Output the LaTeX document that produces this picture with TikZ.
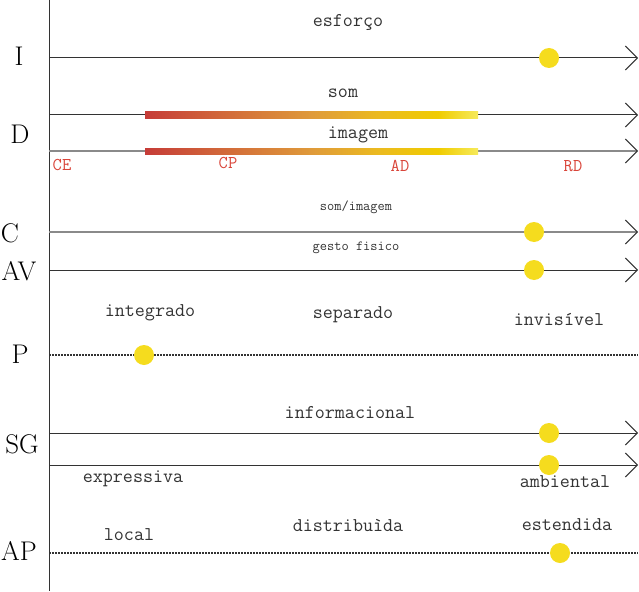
\documentclass[tikz,border=0pt]{standalone}
\usepackage{fontspec}
\usetikzlibrary{arrows.meta}
\definecolor{dotyel}{HTML}{F5DC1E}
\definecolor{ln}{HTML}{333333}
\definecolor{lngray}{HTML}{8A8A8A}
\definecolor{lbred}{HTML}{D9453A}
\definecolor{gA}{HTML}{C63C38}
\definecolor{gB}{HTML}{D26A3A}
\definecolor{gC}{HTML}{DF9A3A}
\definecolor{gD}{HTML}{EBBA20}
\definecolor{gE}{HTML}{F0CC00}
\definecolor{gF}{HTML}{F6EA5A}
\pgfdeclarehorizontalshading{grad}{100bp}{color(0bp)=(gA); color(25bp)=(gA); color(37bp)=(gB); color(50bp)=(gC); color(60bp)=(gD); color(69bp)=(gE); color(75bp)=(gF); color(100bp)=(gF)}
\tikzset{
  axisline/.style={draw=ln, line width=1pt},
  arrline/.style={draw=ln, line width=1pt, -{Straight Barb[length=12pt,width=24pt,line width=1pt,color=ln]}},
  grayarr/.style={arrline, draw=lngray, line width=1.4pt},
  dotline/.style={draw=ln, line width=1.3pt, dash pattern=on 1.6pt off 1.4pt},
  bigl/.style={inner sep=0pt, font=\fontsize{27}{27}\selectfont},
  lab/.style={inner sep=0pt, font=\ttfamily\fontsize{19.5}{19.5}\selectfont, text=ln},
  smlab/.style={inner sep=0pt, font=\ttfamily\fontsize{14}{14}\selectfont, text=ln},
  redlab/.style={inner sep=0pt, font=\ttfamily\fontsize{18}{18}\selectfont, text=lbred},
  ydot/.style={circle, fill=dotyel, inner sep=0pt, minimum size=20pt},
  gbar/.style={shading=grad}
}
\begin{document}
\begin{tikzpicture}[x=1pt,y=-1pt]
\useasboundingbox (0,0) rectangle (639,591);
% axis
\coordinate (axT) at (49,0);
\coordinate (axB) at (49,591);
\draw[axisline] (axT) -- (axB);
% line coordinates
\foreach \n/\y in {I/58,som/115,img/151,C/232,AV/270,P/355,SGa/433,SGb/465,AP/553}{
  \coordinate (s\n) at (49,\y);
  \coordinate (e\n) at (638,\y);
}
\draw[arrline] (sI) -- (eI);
\draw[arrline] (ssom) -- (esom);
\draw[grayarr] (simg) -- (eimg);
\draw[grayarr] (sC) -- (eC);
\draw[arrline] (sAV) -- (eAV);
\draw[dotline] (sP) -- (eP);
\draw[arrline] (sSGa) -- (eSGa);
\draw[arrline] (sSGb) -- (eSGb);
\draw[dotline] (sAP) -- (eAP);
% gradient bars
\coordinate (b1a) at (145,112);
\coordinate (b1b) at (478,118.5);
\coordinate (b2a) at (145,148);
\coordinate (b2b) at (478,154.5);
\shade[gbar] (b1a) rectangle (b1b);
\shade[gbar] (b2a) rectangle (b2b);
% row letters
\node[bigl] (lI) at (19,56) {I};
\node[bigl] (lD) at (20,134) {D};
\node[bigl] (lC) at (10,233) {C};
\node[bigl] (lAV) at (19,271) {AV};
\node[bigl] (lP) at (20,354) {P};
\node[bigl] (lSG) at (22,444) {SG};
\node[bigl] (lAP) at (19,551) {AP};
% labels
\node[lab] (tesf) at (348,23) {esforço};
\node[lab] (tsom) at (343,93) {som};
\node[lab] (timg) at (358,135) {imagem};
\node[redlab] (tCE) at (62,165) {CE};
\node[redlab] (tCP) at (228,163) {CP};
\node[redlab] (tAD) at (400,166) {AD};
\node[redlab] (tRD) at (573,166) {RD};
\node[smlab] (tsi) at (356,207) {som/imagem};
\node[smlab] (tgf) at (356,248) {gesto fisico};
\node[lab] (tint) at (150,313) {integrado};
\node[lab] (tsep) at (353,315) {separado};
\node[lab] (tinv) at (559,319) {invisível};
\node[lab] (tinf) at (350,413) {informacional};
\node[lab] (texp) at (133,479) {expressiva};
\node[lab] (tamb) at (565,482) {ambiental};
\node[lab] (tloc) at (129,535) {local};
\node[lab] (tdis) at (348,525) {distribuìda};
\node[lab] (test) at (567,525) {estendida};
% dots
\node[ydot] (dI) at (549,58) {};
\node[ydot] (dC) at (534,232) {};
\node[ydot] (dAV) at (534,270) {};
\node[ydot] (dP) at (144,355) {};
\node[ydot] (dSGa) at (549,433) {};
\node[ydot] (dSGb) at (549,465) {};
\node[ydot] (dAP) at (560,553) {};
\end{tikzpicture}
\end{document}
